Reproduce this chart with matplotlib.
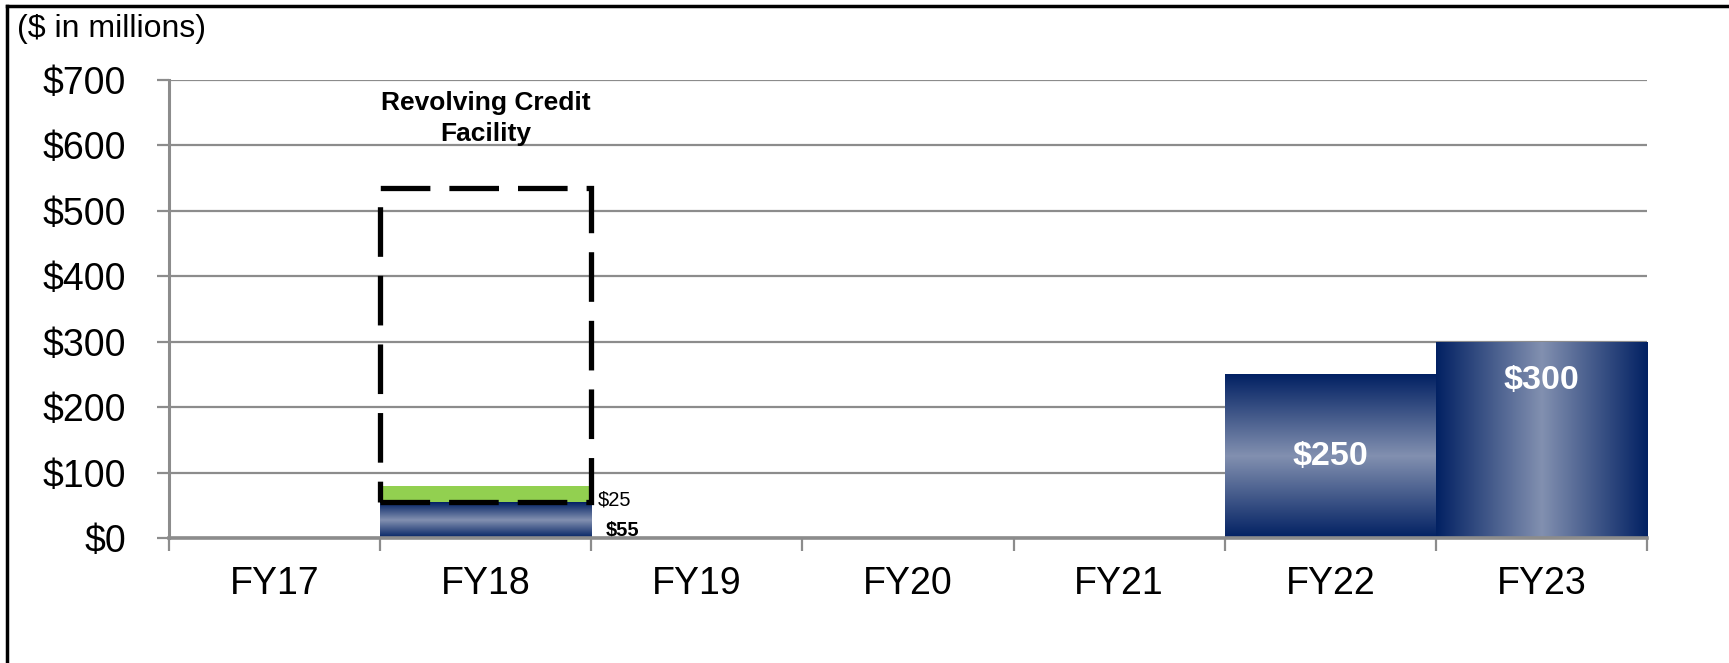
import numpy as np
import matplotlib.pyplot as plt
from matplotlib.patches import Rectangle
from matplotlib.lines import Line2D
from matplotlib.colors import LinearSegmentedColormap

years = ["FY17", "FY18", "FY19", "FY20", "FY21", "FY22", "FY23"]
notes = [0, 55, 0, 0, 0, 250, 300]
revolver_drawn = [0, 25, 0, 0, 0, 0, 0]
revolver_size = 480  # undrawn capacity shown by the dashed box, above the $55 bar
ticks = [0, 100, 200, 300, 400, 500, 600, 700]

plt.rcParams['font.family'] = ['Liberation Sans', 'DejaVu Sans']

navy = "#022163"
light = "#8290B0"
green = "#92D050"
grid = "#8C8C8C"
cmap = LinearSegmentedColormap.from_list("nv", [navy, light, navy])

fig = plt.figure(figsize=(17.29, 6.63), dpi=100)
ax = fig.add_axes([0.0977, 0.1885, 0.8549, 0.6908])

x = np.arange(len(years))
grad = np.linspace(0, 1, 256)

for i, v in enumerate(notes):
    if v == 0:
        continue
    rect = Rectangle((i - 0.5, 0), 1.0, v, facecolor="none", edgecolor="none")
    ax.add_patch(rect)
    if years[i] == "FY23":
        img = grad[np.newaxis, :]
    else:
        img = grad[:, np.newaxis]
    im = ax.imshow(img, cmap=cmap, extent=[i - 0.5, i + 0.5, 0, v],
                   aspect="auto", zorder=2, interpolation="bilinear")
    im.set_clip_path(rect)

ax.bar(x, revolver_drawn, bottom=notes, width=1.0, color=green, zorder=2)

# dashed box for the revolving credit facility
i18 = years.index("FY18")
box = Rectangle((i18 - 0.5, notes[i18]), 1.0, revolver_size, fill=False,
                edgecolor="black", linewidth=3.8, linestyle=(0, (9.4, 3.6)), zorder=4)
ax.add_patch(box)
ax.text(i18, 641, "Revolving Credit\nFacility", ha="center", va="center",
        fontsize=19, fontweight="bold", linespacing=1.4)

ax.text(i18 + 0.53, notes[i18] + 3, "$%d" % revolver_drawn[i18], ha="left", va="center",
        fontsize=14.5)
ax.text(i18 + 0.57, 12, "$%d" % notes[i18], ha="left", va="center",
        fontsize=14.5, fontweight="bold")

i22 = years.index("FY22")
ax.text(i22, notes[i22] / 2, "$%d" % notes[i22], ha="center", va="center",
        fontsize=24.5, fontweight="bold", color="white", zorder=5)
i23 = years.index("FY23")
ax.text(i23, notes[i23] * 0.8, "$%d" % notes[i23], ha="center", va="center",
        fontsize=24.5, fontweight="bold", color="white", zorder=5)

ax.set_xlim(-0.5, len(years) - 0.5)
ax.set_ylim(0, 700)
ax.set_yticks(ticks)
ax.set_yticklabels(["$%d" % t for t in ticks], fontsize=27)
ax.yaxis.grid(True, color=grid, linewidth=1.6, zorder=0)
ax.set_axisbelow(True)

ax.set_xticks(x)
ax.set_xticklabels(years, fontsize=27)
ax.set_xticks(np.arange(-0.5, len(years)), minor=True)
ax.tick_params(axis="x", which="major", length=0, pad=20)
ax.tick_params(axis="x", which="minor", length=9, width=1.6, color=grid)
ax.tick_params(axis="y", length=9, width=1.6, color=grid, pad=22)

for s in ["top", "right"]:
    ax.spines[s].set_visible(False)
ax.spines["left"].set_color(grid)
ax.spines["left"].set_linewidth(2.2)
ax.spines["bottom"].set_color(grid)
ax.spines["bottom"].set_linewidth(2.6)
ax.spines["bottom"].set_zorder(6)

fig.text(0.010, 0.957, "($ in millions)", fontsize=23, ha="left", va="center")

# outer frame (only top and left edges fall inside the image)
fig.add_artist(Line2D([0.004, 1.0], [0.991, 0.991], color="black", linewidth=2.5))
fig.add_artist(Line2D([0.004, 0.004], [0.0, 0.991], color="black", linewidth=2.5))

fig.savefig("out.png", dpi=100)
